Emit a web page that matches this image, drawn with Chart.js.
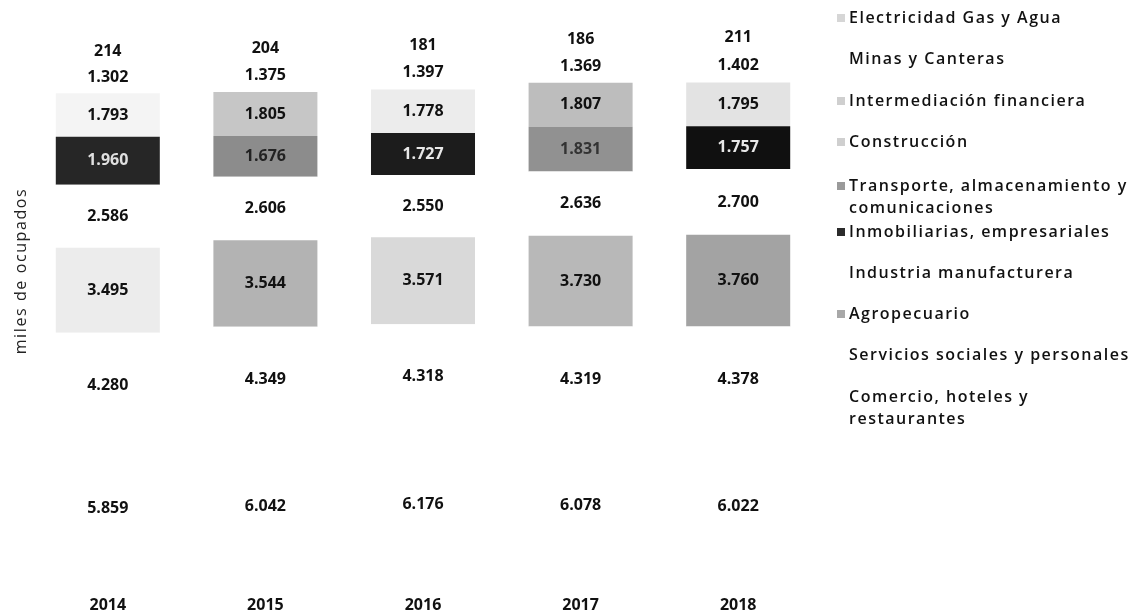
<!DOCTYPE html>
<html>
<head>
<meta charset="utf-8">
<script src="https://cdn.jsdelivr.net/npm/chart.js@4.4.1/dist/chart.umd.min.js"></script>
<style>
  html, body { margin: 0; padding: 0; background: #ffffff; }
  #wrap { width: 1141px; height: 615px; position: relative; }
</style>
</head>
<body>
<div id="wrap"><canvas id="c" width="1141" height="615"></canvas></div>
<script>
// ---- data (miles de ocupados) ----
const years = ['2014', '2015', '2016', '2017', '2018'];
const comercio       = [5859, 6042, 6176, 6078, 6022];
const servicios      = [4280, 4349, 4318, 4319, 4378];
const agropecuario   = [3495, 3544, 3571, 3730, 3760];
const industria      = [2586, 2606, 2550, 2636, 2700];
const inmobiliarias  = [1960, 1676, 1727, 1831, 1757];
const transporte     = [1793, 1805, 1778, 1807, 1795];
const construccion   = [1302, 1375, 1397, 1369, 1402];
const intermediacion = [300, 300, 310, 300, 320];
const minas          = [214, 204, 181, 186, 211];
const electricidad   = [110, 105, 110, 110, 115];

const yTitle = 'miles de ocupados';
const legendNames = [
  ['Electricidad Gas y Agua'],
  ['Minas y Canteras'],
  ['Intermediación financiera'],
  ['Construcción'],
  ['Transporte, almacenamiento y', 'comunicaciones'],
  ['Inmobiliarias, empresariales'],
  ['Industria manufacturera'],
  ['Agropecuario'],
  ['Servicios sociales y personales'],
  ['Comercio, hoteles y', 'restaurantes']
];
const legendMarkers = ['#d6d6d6', null, '#cfcfcf', '#cfcfcf', '#9a9a9a', '#2b2b2b', null, '#a8a8a8', null, null];
const legendY = [18, 59, 101, 142, 186, 232, 273, 314, 355, 397];

const fmt = v => String(v).replace(/\B(?=(\d{3})+(?!\d))/g, '.');

function ds(label, data, bg, showLabel, labelColor) {
  return { label, data, backgroundColor: bg, borderWidth: 0,
           _showLabel: showLabel, _labelColor: labelColor || '#111' };
}

const datasets = [
  ds('Comercio, hoteles y restaurantes', comercio, '#ffffff', true),
  ds('Servicios sociales y personales', servicios, '#ffffff', true),
  ds('Agropecuario', agropecuario, ['#ececec', '#b3b3b3', '#d9d9d9', '#b8b8b8', '#a3a3a3'], true),
  ds('Industria manufacturera', industria, '#ffffff', true),
  ds('Inmobiliarias, empresariales', inmobiliarias, ['#262626', '#8c8c8c', '#1c1c1c', '#919191', '#101010'], true,
     ['#e0e0e0', '#222', '#e8e8e8', '#333', '#e8e8e8']),
  ds('Transporte, almacenamiento y comunicaciones', transporte, ['#f4f4f4', '#c6c6c6', '#ececec', '#bdbdbd', '#e3e3e3'], true),
  ds('Construcción', construccion, '#ffffff', true),
  ds('Intermediación financiera', intermediacion, '#ffffff', false),
  ds('Minas y Canteras', minas, '#ffffff', true),
  ds('Electricidad Gas y Agua', electricidad, '#ffffff', false)
];

const labelPlugin = {
  id: 'segLabels',
  afterDatasetsDraw(chart) {
    const ctx = chart.ctx;
    ctx.save();
    ctx.font = 'bold 16px "Open Sans", sans-serif';
    ctx.textAlign = 'center';
    ctx.textBaseline = 'middle';
    chart.data.datasets.forEach((d, i) => {
      if (!d._showLabel) return;
      const meta = chart.getDatasetMeta(i);
      meta.data.forEach((bar, j) => {
        const c = Array.isArray(d._labelColor) ? d._labelColor[j] : d._labelColor;
        ctx.fillStyle = c;
        const y = (bar.y + bar.base) / 2;
        ctx.fillText(fmt(d.data[j]), bar.x, y);
      });
    });
    ctx.restore();
  }
};

const sidePlugin = {
  id: 'sideLegend',
  afterDraw(chart) {
    const ctx = chart.ctx;
    ctx.save();
    ctx.font = '600 16px "Open Sans", sans-serif';
    if ('letterSpacing' in ctx) ctx.letterSpacing = '1.5px';
    ctx.textAlign = 'left';
    ctx.textBaseline = 'middle';
    legendNames.forEach((lines, i) => {
      const y = legendY[i];
      if (legendMarkers[i]) {
        ctx.fillStyle = legendMarkers[i];
        ctx.fillRect(837, y - 4, 8, 8);
      }
      ctx.fillStyle = '#111';
      lines.forEach((t, k) => {
        ctx.fillText(t, 849, y + k * 22);
      });
    });
    // y-axis title
    ctx.font = '16px "Open Sans", sans-serif';
    if ('letterSpacing' in ctx) ctx.letterSpacing = '1.6px';
    ctx.fillStyle = '#222';
    ctx.translate(21, 271);
    ctx.rotate(-Math.PI / 2);
    ctx.textAlign = 'center';
    ctx.fillText(yTitle, 0, 0);
    ctx.restore();
  }
};

new Chart(document.getElementById('c'), {
  type: 'bar',
  data: { labels: years, datasets },
  options: {
    responsive: false,
    animation: false,
    layout: { padding: { left: 29, right: 324, top: 34, bottom: 0 } },
    plugins: { legend: { display: false }, tooltip: { enabled: false } },
    datasets: { bar: { categoryPercentage: 1.0, barPercentage: 0.66 } },
    scales: {
      x: {
        stacked: true,
        grid: { display: false, drawTicks: false },
        border: { display: false },
        ticks: { color: '#111', font: { family: 'Open Sans', weight: 'bold', size: 16 }, padding: 16 },
        afterFit(scale) { scale.height = 35; }
      },
      y: {
        display: false,
        stacked: true,
        min: 0, max: 22400
      }
    }
  },
  plugins: [labelPlugin, sidePlugin]
});
</script>
</body>
</html>
